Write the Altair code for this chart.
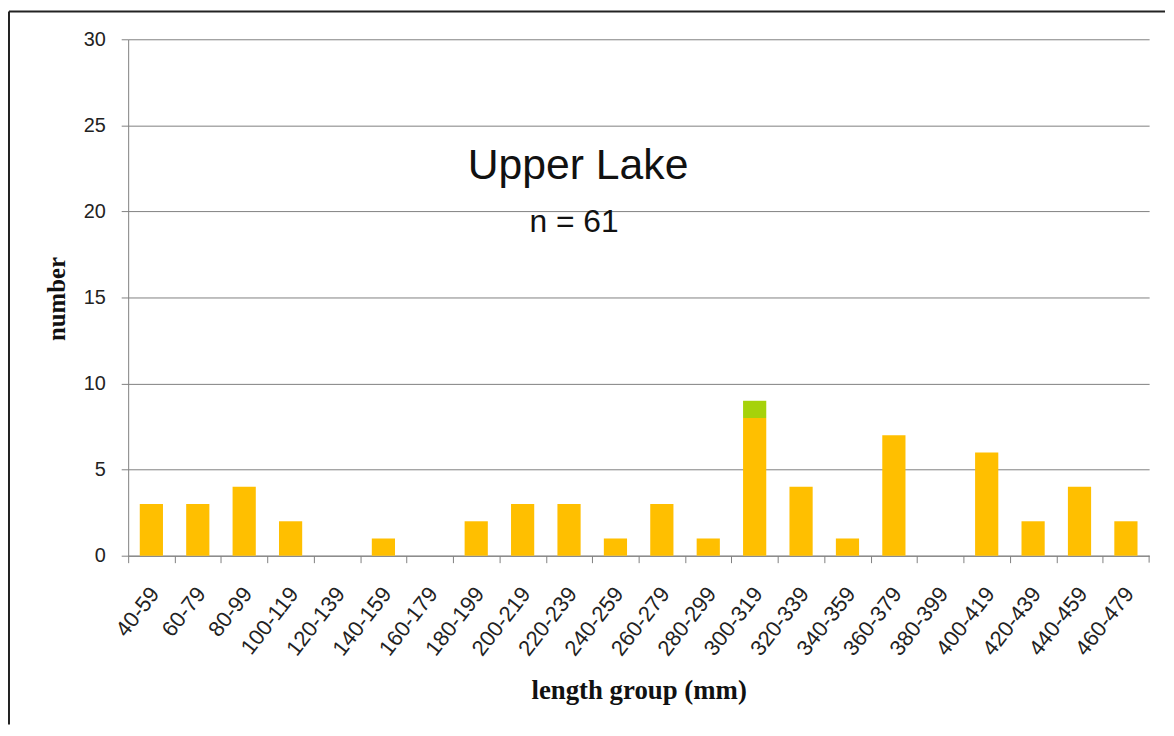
import altair as alt
import pandas as pd

groups = ["40-59", "60-79", "80-99", "100-119", "120-139", "140-159", "160-179",
          "180-199", "200-219", "220-239", "240-259", "260-279", "280-299",
          "300-319", "320-339", "340-359", "360-379", "380-399", "400-419",
          "420-439", "440-459", "460-479"]
orange_counts = [3, 3, 4, 2, 0, 1, 0, 2, 3, 3, 1, 3, 1, 8, 4, 1, 7, 0, 6, 2, 4, 2]
green_counts = [0, 0, 0, 0, 0, 0, 0, 0, 0, 0, 0, 0, 0, 1, 0, 0, 0, 0, 0, 0, 0, 0]
series_names = ["series A", "series B"]
series_colors = ["#FFBF00", "#A6D20A"]
y_ticks = [0, 5, 10, 15, 20, 25, 30]
chart_title = "Upper Lake"
n_label = "n = 61"

rows = []
for g, o, gr in zip(groups, orange_counts, green_counts):
    rows.append({"group": g, "series": series_names[0], "count": o, "ord": 0})
    rows.append({"group": g, "series": series_names[1], "count": gr, "ord": 1})
df = pd.DataFrame(rows)

W, H = 1028, 520
step = W / (len(groups) - 0.5 + 0.5)
half = step / 2

bars = alt.Chart(df).mark_bar().encode(
    x=alt.X("group:N", sort=groups,
            scale=alt.Scale(paddingInner=0.5, paddingOuter=0.25),
            axis=alt.Axis(title="length group (mm)", titleFont="Liberation Serif",
                          titleFontWeight="bold", titleFontSize=27, titleColor="#111",
                          titleY=136, titleBaseline="middle",
                          labelAngle=-52, labelAlign="right", labelBaseline="middle",
                          labelFont="Liberation Sans", labelFontSize=22, labelColor="#222",
                          labelPadding=27, tickSize=7, tickColor="#808080",
                          tickOffset=-half, labelOffset=half + 3,
                          domainColor="#808080", grid=False)),
    y=alt.Y("count:Q", stack="zero",
            scale=alt.Scale(domain=[0, 30]),
            axis=alt.Axis(values=y_ticks, title="number", titleFont="Liberation Serif",
                          titleFontWeight="bold", titleFontSize=25, titleColor="#111",
                          titleAngle=270, titleX=-72, titleY=261,
                          titleAlign="center", titleBaseline="middle",
                          labelFont="Liberation Sans", labelFontSize=20, labelColor="#222",
                          labelPadding=16, tickSize=7, tickColor="#808080",
                          domainColor="#808080", grid=True, gridColor="#808080")),
    color=alt.Color("series:N", scale=alt.Scale(domain=series_names, range=series_colors),
                    legend=None),
    order=alt.Order("ord:Q"),
)

one = pd.DataFrame({"k": [0]})
title_df = pd.DataFrame({"label": [chart_title]})
n_df = pd.DataFrame({"label": [n_label]})

title_text = alt.Chart(title_df).mark_text(
    font="Liberation Sans", fontSize=43, color="#111", align="center", baseline="middle"
).encode(text="label:N", x=alt.value(453), y=alt.value(128))

n_text = alt.Chart(n_df).mark_text(
    font="Liberation Sans", fontSize=32, color="#111", align="center", baseline="middle"
).encode(text="label:N", x=alt.value(449), y=alt.value(184))

frame_top = alt.Chart(one).mark_rule(color="#222", strokeWidth=2).encode(
    x=alt.value(-120), x2=alt.value(1044), y=alt.value(-28))
frame_left = alt.Chart(one).mark_rule(color="#222", strokeWidth=2).encode(
    x=alt.value(-120), y=alt.value(-28), y2=alt.value(690))
end_tick = alt.Chart(one).mark_rule(color="#808080").encode(
    x=alt.value(W), y=alt.value(H), y2=alt.value(H + 7))

chart = alt.layer(bars, title_text, n_text, frame_top, frame_left, end_tick).properties(
    width=W, height=H,
    padding={"left": 0, "top": 0, "right": 0, "bottom": 0},
    background="white",
).configure_view(stroke=None)

chart.save("out.html", embed_options={"renderer": "svg", "actions": False})
